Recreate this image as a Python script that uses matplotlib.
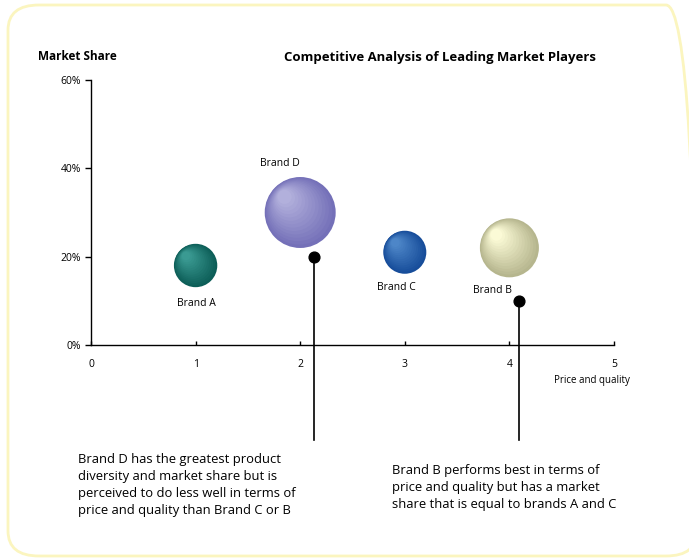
import numpy as np
import matplotlib
matplotlib.use("Agg")
import matplotlib.pyplot as plt
from matplotlib.patches import FancyBboxPatch
from matplotlib.colors import to_rgb
import matplotlib.transforms as mtransforms

plt.rcParams['font.family'] = ['Open Sans', 'DejaVu Sans']

# ---- data ----
brands = ["Brand A", "Brand D", "Brand C", "Brand B"]
price_quality = [1, 2, 3, 4]
market_share = [18, 30, 21, 22]          # %
diversity = [975, 2610, 960, 1805]       # bubble area (pt^2)
edge_colors = ["#0d5e58", "#7470b8", "#174d9a", "#b6b68e"]
light_colors = ["#3a9a92", "#b2b0dc", "#4d86c8", "#fbfad6"]

y_ticks = [0, 20, 40, 60]
y_tick_labels = ["0%", "20%", "40%", "60%"]
x_ticks = [0, 1, 2, 3, 4, 5]

callout_x = [2.13, 4.09]
callout_y = [20, 10]
callout_texts = [
    "Brand D has the greatest product\ndiversity and market share but is\nperceived to do less well in terms of\nprice and quality than Brand C or B",
    "Brand B performs best in terms of\nprice and quality but has a market\nshare that is equal to brands A and C",
]

W, H = 689, 558
fig = plt.figure(figsize=(W / 100, H / 100), dpi=100)
fig.patch.set_facecolor("white")

# rounded border
border = FancyBboxPatch((8 / W, 2 / H), 689 / W, 551 / H,
                        boxstyle="round,pad=0,rounding_size=0.045",
                        transform=fig.transFigure, fill=False,
                        edgecolor="#fbf5bf", linewidth=2.0, clip_on=False)
fig.patches.append(border)

ax = fig.add_axes([91 / W, 1 - 345 / H, (614 - 91) / W, (345 - 80) / H])
ax.set_xlim(0, 5)
ax.set_ylim(0, 60)
for s in ["top", "right"]:
    ax.spines[s].set_visible(False)
ax.spines["left"].set_linewidth(1.0)
ax.spines["bottom"].set_linewidth(1.0)
ax.set_yticks(y_ticks)
ax.set_yticklabels(y_tick_labels, fontsize=7.5)
ax.set_xticks(x_ticks)
ax.set_xticklabels([str(v) for v in x_ticks], fontsize=7.5)
ax.tick_params(axis="y", direction="out", length=4, width=1, pad=3)
ax.tick_params(axis="x", direction="in", length=3, width=1, pad=10)

# shaded bubbles: concentric layers shifted toward an upper-left highlight
n_layers = 14
for x, y, s, ec, lc in zip(price_quality, market_share, diversity, edge_colors, light_colors):
    r_pt = np.sqrt(s) / 2.0
    e = np.array(to_rgb(ec))
    l = np.array(to_rgb(lc))
    for i in range(n_layers):
        f = i / (n_layers - 1)
        rr = r_pt * (1 - 0.8 * f)
        shift = (r_pt - rr) * 0.55
        off = mtransforms.ScaledTranslation(-shift / 72, shift / 72, fig.dpi_scale_trans)
        col = e * (1 - f) + l * f
        ax.scatter([x], [y], s=(2 * rr) ** 2, color=col, edgecolors="none",
                   transform=ax.transData + off, zorder=3 + i * 0.01, clip_on=False)

# bubble labels
label_pos = {"Brand A": (0.01, -8.7), "Brand D": (-0.19, 11.2), "Brand C": (-0.08, -8), "Brand B": (-0.16, -9.6)}
for b, x, y in zip(brands, price_quality, market_share):
    dx, dy = label_pos[b]
    ax.text(x + dx, y + dy, b, ha="center", va="center", fontsize=7.5, zorder=5)

# callout dots and lines
for cx, cy in zip(callout_x, callout_y):
    ax.plot([cx, cx], [cy, -21.5], color="black", linewidth=1.2, clip_on=False, zorder=4)
    ax.scatter([cx], [cy], s=60, color="black", zorder=6, clip_on=False)

fig.text(78 / W, 1 - 453 / H, callout_texts[0], ha="left", va="top",
         fontsize=9.4, linespacing=1.4)
fig.text(392 / W, 1 - 464 / H, callout_texts[1], ha="left", va="top",
         fontsize=9.4, linespacing=1.4)

fig.text(38 / W, 1 - 57 / H, "Market Share", ha="left", va="center",
         fontsize=8.5, fontweight="bold")
fig.text(440 / W, 1 - 57 / H, "Competitive Analysis of Leading Market Players",
         ha="center", va="center", fontsize=9.45, fontweight="bold")
fig.text(592 / W, 1 - 380 / H, "Price and quality", ha="center", va="center", fontsize=7)

fig.savefig("out.png", dpi=100)
